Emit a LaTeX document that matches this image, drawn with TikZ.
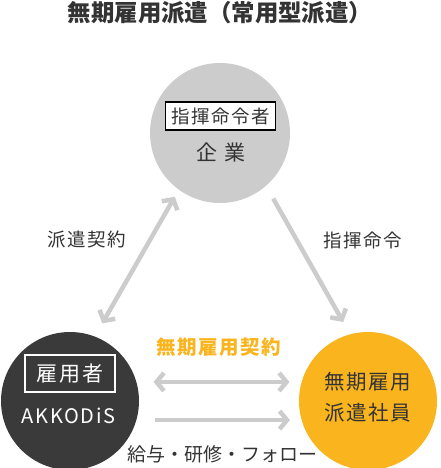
\documentclass[tikz,border=0pt]{standalone}
\usepackage{fontspec}
\newfontfamily\cjk[LetterSpace=8]{Noto Sans CJK JP}
\newfontfamily\cjkt{Noto Sans CJK JP}
\usetikzlibrary{arrows.meta}
\definecolor{topgray}{HTML}{CCCCCC}
\definecolor{darkc}{HTML}{3A3A3A}
\definecolor{orangec}{HTML}{F9B41E}
\definecolor{arrowgray}{HTML}{CCCCCC}
\definecolor{txt}{HTML}{333333}
\tikzset{
  bigcircle/.style={circle, minimum size=138pt, inner sep=0pt},
  lbl/.style={text=txt, inner sep=0pt},
  arr/.style={draw=arrowgray, line width=4.5pt, -{Straight Barb[length=7.5pt,width=18pt]}},
  dblarr/.style={draw=arrowgray, line width=4.5pt, {Straight Barb[length=7.5pt,width=18pt]}-{Straight Barb[length=7.5pt,width=18pt]}},
}
\begin{document}
\begin{tikzpicture}[x=1pt,y=-1pt]
\useasboundingbox (0,0) rectangle (440,468);
% title
\node[lbl, text=txt, font=\cjkt\bfseries\fontsize{23.4}{25}\selectfont] (title) at (220,13) {無期雇用派遣（常用型派遣）};
% circles
\node[bigcircle, fill=topgray, minimum size=140pt] (kigyo) at (220,133) {};
\node[bigcircle, fill=darkc] (emp) at (70,401) {};
\node[bigcircle, fill=orangec] (haken) at (368,401) {};
% top circle content
\node[draw=black, line width=1.6pt, fill=white, minimum width=110pt, minimum height=28pt, inner sep=0pt, text=txt, font=\cjk\fontsize{18.5}{20}\selectfont] (shiki) at (220.5,116) {指揮命令者};
\node[lbl, font=\cjkt\fontsize{21}{22}\selectfont] (kigyolbl) at (221,152) {企\hspace{7pt}業};
% left circle content
\node[draw=white, line width=1.4pt, minimum width=90pt, minimum height=37pt, inner sep=0pt, text=white, font=\cjk\fontsize{21}{22}\selectfont] (koyo) at (70,373.5) {雇用者};
\node[inner sep=0pt, text=white, font=\cjk\fontsize{20}{22}\selectfont] (akk) at (68.5,416) {AKKODiS};
% right circle content
\node[lbl, align=center, font=\cjk\fontsize{20.5}{31}\selectfont] (hakenlbl) at (368,397) {無期雇用\\派遣社員};
% arrows
\draw[dblarr, shorten <=15pt, shorten >=8pt] (emp.69) -- (kigyo.234);
\draw[arr, shorten <=14.5pt, shorten >=14pt] (kigyo.311) -- (haken.105);
\draw[dblarr, shorten <=17pt, shorten >=12pt] (emp.16) -- (haken.164);
\draw[arr, shorten <=18.5pt, shorten >=11.5pt] (emp.344) -- (haken.196);
% labels
\node[lbl, font=\cjk\fontsize{18.5}{20}\selectfont] (hakenkeiyaku) at (86.5,240) {派遣契約};
\node[lbl, font=\cjk\fontsize{18.5}{20}\selectfont] (shikimeirei) at (363,240) {指揮命令};
\node[inner sep=0pt, text=orangec, font=\cjk\bfseries\fontsize{19.5}{21}\selectfont] (mukikeiyaku) at (219,347) {無期雇用契約};
\node[lbl, font=\cjkt\fontsize{19}{20}\selectfont] (kyuyo) at (222,454) {給与・研修・フォロー};
\end{tikzpicture}
\end{document}
